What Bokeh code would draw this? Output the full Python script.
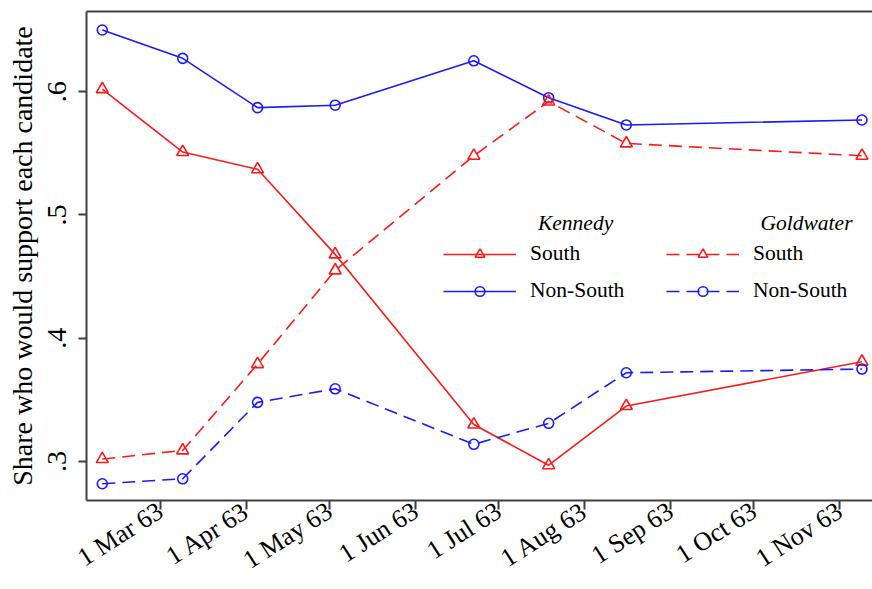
import datetime as dt
from bokeh.plotting import figure
from bokeh.models import (Range1d, FixedTicker, Legend, LegendItem, Label,
                          LinearAxis)
from bokeh.embed import file_html
from bokeh.resources import INLINE

# ---------------- data ----------------
survey_dates = ["1963-02-08", "1963-03-09", "1963-04-05", "1963-05-03",
                "1963-06-22", "1963-07-19", "1963-08-16", "1963-11-09"]
kennedy_south = [0.602, 0.551, 0.537, 0.468, 0.330, 0.297, 0.345, 0.381]
kennedy_nonsouth = [0.650, 0.627, 0.587, 0.589, 0.625, 0.595, 0.573, 0.577]
goldwater_south = [0.302, 0.309, 0.379, 0.455, 0.548, 0.592, 0.558, 0.548]
goldwater_nonsouth = [0.282, 0.286, 0.348, 0.359, 0.314, 0.331, 0.372, 0.375]

tick_dates = ["1963-03-01", "1963-04-01", "1963-05-01", "1963-06-01",
              "1963-07-01", "1963-08-01", "1963-09-01", "1963-10-01",
              "1963-11-01"]
tick_labels = ["1 Mar 63", "1 Apr 63", "1 May 63", "1 Jun 63", "1 Jul 63",
               "1 Aug 63", "1 Sep 63", "1 Oct 63", "1 Nov 63"]
y_ticks = [0.3, 0.4, 0.5, 0.6]
y_tick_labels = [".3", ".4", ".5", ".6"]

y_title = "Share who would support each candidate"

# ---------------- helpers ----------------
BASE = dt.date(1963, 1, 1)


def to_day(s):
    return (dt.date.fromisoformat(s) - BASE).days


x = [to_day(d) for d in survey_dates]
xt = [to_day(d) for d in tick_dates]

FONT = "Liberation Serif"
AX = "#404040"

p = figure(width=872, height=589, output_backend="svg", toolbar_location=None,
           x_range=Range1d(32.3, 315.8), y_range=Range1d(0.2684, 0.665),
           min_border_left=86, min_border_right=0, min_border_top=11,
           min_border_bottom=10)
p.outline_line_color = None
p.grid.visible = False
p.background_fill_color = "white"

# x axis
xa = p.xaxis[0]
xa.ticker = FixedTicker(ticks=xt)
xa.major_label_overrides = {t: l for t, l in zip(xt, tick_labels)}
xa.major_label_orientation = 0.57
xa.major_label_text_font = FONT
xa.major_label_text_font_size = "26px"
xa.major_label_text_color = "black"
xa.major_label_standoff = -1
xa.major_tick_out = 9
xa.major_tick_in = 0
xa.minor_tick_line_color = None
xa.axis_line_color = AX
xa.axis_line_width = 2
xa.major_tick_line_color = AX
xa.major_tick_line_width = 2

# y axis
ya = p.yaxis[0]
ya.ticker = FixedTicker(ticks=y_ticks)
ya.major_label_overrides = {t: l for t, l in zip(y_ticks, y_tick_labels)}
ya.major_label_orientation = "vertical"
ya.major_label_text_font = FONT
ya.major_label_text_font_size = "28px"
ya.major_label_text_color = "black"
ya.major_label_standoff = 12
ya.major_tick_out = 8
ya.major_tick_in = 0
ya.minor_tick_line_color = None
ya.axis_line_color = AX
ya.axis_line_width = 2
ya.major_tick_line_color = AX
ya.major_tick_line_width = 2
ya.axis_label = y_title
ya.axis_label_text_font = FONT
ya.axis_label_text_font_size = "28px"
ya.axis_label_text_font_style = "normal"
ya.axis_label_text_color = "black"
ya.axis_label_standoff = 8

# top frame line
top = LinearAxis(ticker=FixedTicker(ticks=[]), axis_line_color=AX,
                 axis_line_width=2, major_tick_line_color=None,
                 minor_tick_line_color=None, major_label_standoff=0)
p.add_layout(top, "above")

RED = "#ff1a1a"
BLUE = "#1a1aff"
DASH = "13 7"
LW = 1.6

r_ks_l = p.line(x, kennedy_south, color=RED, line_width=LW)
r_ks_m = p.scatter(x, kennedy_south, marker="triangle", size=12,
                   line_color=RED, fill_color=None, line_width=LW)
r_kn_l = p.line(x, kennedy_nonsouth, color=BLUE, line_width=LW)
r_kn_m = p.scatter(x, kennedy_nonsouth, marker="circle", size=10,
                   line_color=BLUE, fill_color=None, line_width=LW)
r_gs_l = p.line(x, goldwater_south, color=RED, line_width=LW, line_dash=DASH)
r_gs_m = p.scatter(x, goldwater_south, marker="triangle", size=12,
                   line_color=RED, fill_color=None, line_width=LW)
r_gn_l = p.line(x, goldwater_nonsouth, color=BLUE, line_width=LW,
                line_dash=DASH)
r_gn_m = p.scatter(x, goldwater_nonsouth, marker="circle", size=10,
                   line_color=BLUE, fill_color=None, line_width=LW)


def make_legend(items, loc):
    lg = Legend(items=items, location=loc, orientation="vertical",
                label_text_font=FONT, label_text_font_size="21.5px",
                label_text_color="black", glyph_width=73, glyph_height=24,
                label_height=24, label_standoff=14, spacing=12, padding=0,
                margin=0, background_fill_alpha=0, border_line_color=None)
    return lg


leg_k = make_legend([LegendItem(label="South", renderers=[r_ks_l, r_ks_m]),
                     LegendItem(label="Non-South", renderers=[r_kn_l, r_kn_m])],
                    (357, 197))
leg_g = make_legend([LegendItem(label="South", renderers=[r_gs_l, r_gs_m]),
                     LegendItem(label="Non-South", renderers=[r_gn_l, r_gn_m])],
                    (580, 197))
p.add_layout(leg_k, "center")
p.add_layout(leg_g, "center")

for txt, xx in (("Kennedy", 208.7), ("Goldwater", 292.0)):
    p.add_layout(Label(x=xx, y=0.4935, text=txt, text_align="center",
                       text_baseline="middle", text_font=FONT,
                       text_font_size="21.5px", text_font_style="italic",
                       text_color="black"))

open("out.html", "w").write(file_html(p, INLINE))
